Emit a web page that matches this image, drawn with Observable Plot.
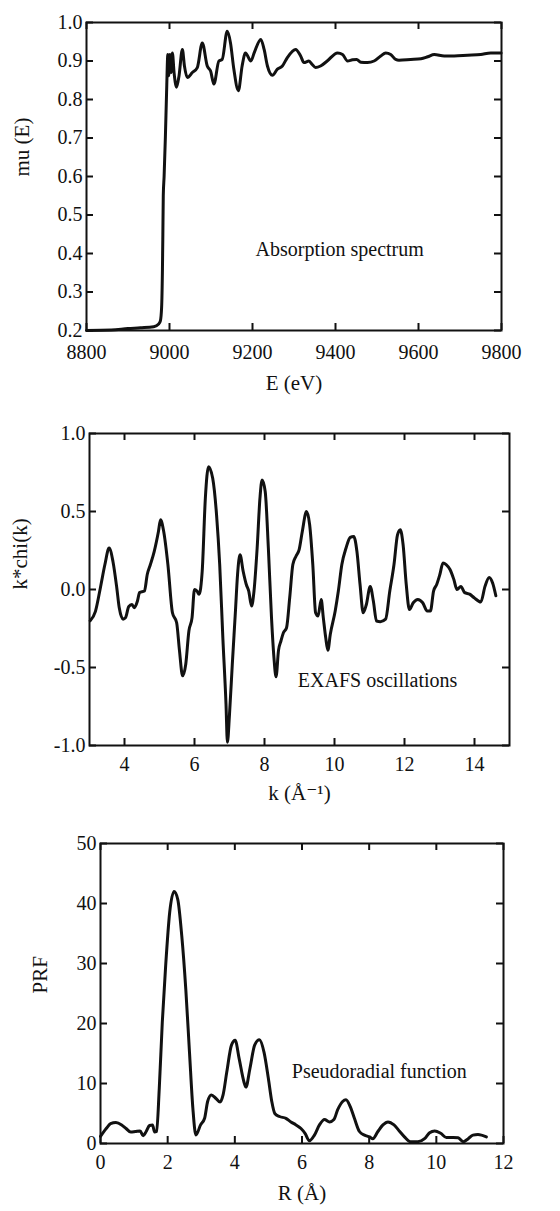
<!DOCTYPE html>
<html><head><meta charset="utf-8">
<script src="https://cdn.jsdelivr.net/npm/d3@7"></script>
<script src="https://cdn.jsdelivr.net/npm/@observablehq/plot@0.6"></script>
<style>
body{margin:0;background:#fff;}
#wrap{position:relative;width:560px;height:1211px;overflow:hidden;}
#wrap svg{position:absolute;left:0;}
#wrap svg text{font-family:"Liberation Serif","DejaVu Serif",serif !important;}
</style></head><body><div id="wrap"></div>
<script>
// ---- Panel 1: absorption spectrum ----
const absE = [8800,8860,8900,8930,8962,8974,8978,8981,8983,8984,8985,8987,8990,8993,8996,8998,9001,9004,9007,9011,9017,9023,9031,9036,9043,9055,9067,9079,9091,9099,9107,9119,9127,9139,9147,9155,9166,9175,9183,9196,9204,9220,9228,9236,9248,9260,9272,9284,9304,9316,9324,9336,9344,9352,9364,9380,9405,9417,9429,9441,9451,9461,9477,9493,9509,9521,9533,9545,9553,9581,9606,9622,9638,9662,9686,9718,9750,9774,9799];
const absMu = [0.200,0.201,0.205,0.207,0.210,0.217,0.225,0.26,0.36,0.45,0.55,0.60,0.70,0.82,0.917,0.862,0.917,0.870,0.921,0.870,0.832,0.862,0.930,0.887,0.857,0.870,0.883,0.947,0.887,0.874,0.840,0.900,0.904,0.977,0.947,0.879,0.823,0.887,0.921,0.900,0.921,0.956,0.930,0.887,0.863,0.879,0.887,0.909,0.930,0.913,0.896,0.900,0.891,0.883,0.887,0.900,0.921,0.917,0.900,0.903,0.904,0.897,0.896,0.900,0.913,0.921,0.917,0.904,0.902,0.904,0.906,0.911,0.917,0.913,0.913,0.915,0.917,0.921,0.921];
const absXTicks = [8800,9000,9200,9400,9600,9800];
const absYTicks = [0.2,0.3,0.4,0.5,0.6,0.7,0.8,0.9,1.0];

// ---- Panel 2: EXAFS oscillations ----
const exK = [3.02,3.17,3.31,3.44,3.56,3.67,3.78,3.85,3.96,4.03,4.12,4.21,4.28,4.37,4.43,4.57,4.65,4.74,4.85,4.97,5.03,5.12,5.24,5.37,5.49,5.57,5.66,5.75,5.84,5.93,6.0,6.07,6.13,6.22,6.31,6.40,6.52,6.63,6.72,6.81,6.90,6.94,7.0,7.08,7.17,7.23,7.30,7.39,7.48,7.55,7.63,7.70,7.79,7.87,7.93,8.02,8.11,8.20,8.27,8.33,8.40,8.47,8.54,8.63,8.72,8.81,8.90,8.99,9.08,9.20,9.29,9.38,9.46,9.53,9.62,9.68,9.75,9.81,9.88,10.02,10.11,10.21,10.33,10.45,10.55,10.64,10.73,10.82,10.91,11.02,11.11,11.20,11.31,11.46,11.58,11.70,11.80,11.88,11.96,12.05,12.14,12.25,12.38,12.52,12.65,12.74,12.83,12.92,13.01,13.10,13.19,13.30,13.41,13.50,13.61,13.72,13.86,13.99,14.18,14.30,14.42,14.52,14.61];
const exChi = [-0.20,-0.14,0.01,0.16,0.266,0.18,0.01,-0.117,-0.19,-0.18,-0.11,-0.096,-0.117,-0.074,-0.02,-0.01,0.096,0.16,0.245,0.372,0.447,0.372,0.16,-0.149,-0.213,-0.39,-0.553,-0.479,-0.266,-0.18,0.0,-0.01,-0.03,0.117,0.585,0.787,0.713,0.479,0.16,-0.31,-0.734,-0.979,-0.80,-0.479,-0.138,0.096,0.223,0.117,0.032,-0.01,-0.106,-0.01,0.266,0.585,0.702,0.628,0.266,-0.18,-0.436,-0.56,-0.39,-0.33,-0.277,-0.245,-0.053,0.16,0.213,0.255,0.372,0.5,0.415,0.16,-0.149,-0.17,-0.064,-0.18,-0.31,-0.39,-0.287,-0.138,-0.01,0.16,0.266,0.334,0.34,0.245,0.032,-0.149,-0.096,0.02,-0.074,-0.202,-0.206,-0.19,-0.01,0.16,0.35,0.383,0.287,0.032,-0.128,-0.085,-0.064,-0.085,-0.138,-0.138,-0.01,0.032,0.096,0.17,0.16,0.128,0.064,0.0,0.02,-0.02,-0.03,-0.053,-0.08,0.02,0.077,0.04,-0.04];
const exXTicks = [4,6,8,10,12,14];
const exYTicks = [-1.0,-0.5,0.0,0.5,1.0];

// ---- Panel 3: pseudoradial function ----
const prfR = [0.0,0.17,0.30,0.46,0.63,0.76,0.90,1.04,1.18,1.27,1.36,1.46,1.55,1.61,1.67,1.75,1.84,1.94,2.06,2.19,2.30,2.42,2.54,2.65,2.75,2.84,2.98,3.10,3.19,3.30,3.44,3.56,3.65,3.76,3.90,4.01,4.13,4.27,4.33,4.45,4.59,4.73,4.87,5.0,5.10,5.19,5.33,5.52,5.67,5.82,5.97,6.09,6.22,6.37,6.52,6.67,6.82,6.95,7.06,7.21,7.31,7.44,7.56,7.71,7.86,8.01,8.11,8.26,8.41,8.56,8.74,8.91,9.05,9.23,9.45,9.65,9.80,9.95,10.13,10.30,10.50,10.65,10.80,10.95,11.09,11.24,11.49];
const prfV = [1.2,2.5,3.3,3.5,3.1,2.5,1.9,2.0,2.1,1.3,2.0,3.0,3.1,1.9,2.0,9.2,20.2,29.6,38.5,42.0,40.7,34.6,25.7,15.2,5.9,1.4,3.1,4.2,7.0,8.1,7.5,6.9,8.1,11.9,16.4,17.2,14.1,10.3,9.4,12.5,16.4,17.3,15.2,10.8,7.0,5.0,4.5,4.2,3.6,3.1,2.5,1.7,0.45,1.4,3.1,4.0,3.6,4.0,5.6,7.0,7.3,6.1,4.2,2.0,1.4,1.1,0.8,2.0,3.1,3.6,3.1,2.0,1.1,0.3,0.3,0.8,1.8,2.1,1.7,1.0,1.0,0.95,0.3,0.8,1.4,1.5,1.1];
const prfXTicks = [0,2,4,6,8,10,12];
const prfYTicks = [0,10,20,30,40,50];

const FONT = "Liberation Serif";
const INK = "#111";

function panel(o) {
  const data = o.xs.map((x, i) => ({x, y: o.ys[i]}));
  const ph = o.height - o.mt - o.mb;
  const pw = 560 - o.ml - o.mr;
  const T = 7;
  const svg = Plot.plot({
    width: 560, height: o.height,
    marginTop: o.mt, marginBottom: o.mb, marginLeft: o.ml, marginRight: o.mr,
    style: {fontFamily: FONT, fontSize: "20px", color: INK, background: "white"},
    x: {domain: o.xDomain, label: null},
    y: {domain: o.yDomain, label: null},
    marks: [
      Plot.tickX(o.xTicks, {x: d => d, insetBottom: ph - T, stroke: INK, strokeWidth: 2}),
      Plot.tickX(o.xTicks, {x: d => d, insetTop: ph - T, stroke: INK, strokeWidth: 2}),
      Plot.tickY(o.yTicks, {y: d => d, insetRight: pw - T, stroke: INK, strokeWidth: 2}),
      Plot.tickY(o.yTicks, {y: d => d, insetLeft: pw - T, stroke: INK, strokeWidth: 2}),
      Plot.axisX({ticks: o.xTicks, tickSize: 0, tickPadding: o.xPad, tickFormat: d => String(d), fontFamily: FONT, fontSize: 20}),
      Plot.axisY({ticks: o.yTicks, tickSize: 0, tickPadding: 4, tickFormat: o.yFmt, fontFamily: FONT, fontSize: 20}),
      Plot.line(data, {x: "x", y: "y", stroke: INK, strokeWidth: 3, curve: "monotone-x", strokeLinejoin: "round"}),
      Plot.frame({stroke: INK, strokeWidth: 2}),
      Plot.text([o.note], {x: d => d.x, y: d => d.y, text: d => d.t, fontSize: 20, fontFamily: FONT, fill: INK}),
      Plot.text([o.xLabel], {frameAnchor: "bottom", dy: o.xLabelDy, fontSize: 21, fontFamily: FONT, fill: INK}),
      Plot.text([o.yLabel], {frameAnchor: "left", dx: o.yLabelDx, rotate: -90, fontSize: 21, fontFamily: FONT, fill: INK})
    ]
  });
  svg.style.top = o.top + "px";
  document.getElementById("wrap").appendChild(svg);
}

panel({
  xs: absE, ys: absMu, xDomain: [8800, 9800], yDomain: [0.2, 1.0],
  xTicks: absXTicks, yTicks: absYTicks, yFmt: d => d.toFixed(1),
  top: 0, height: 400, mt: 22, mb: 70, ml: 86, mr: 59, xPad: 14,
  note: {x: 9410, y: 0.41, t: "Absorption spectrum"},
  xLabel: "E (eV)", xLabelDy: 59, yLabel: "mu (E)", yLabelDx: -64
});
panel({
  xs: exK, ys: exChi, xDomain: [3, 15], yDomain: [-1, 1],
  xTicks: exXTicks, yTicks: exYTicks, yFmt: d => d.toFixed(1),
  top: 400, height: 410, mt: 33, mb: 65, ml: 89, mr: 51, xPad: 11,
  note: {x: 11.23, y: -0.585, t: "EXAFS oscillations"},
  xLabel: "k (Å⁻¹)", xLabelDy: 54, yLabel: "k*chi(k)", yLabelDx: -69
});
panel({
  xs: prfR, ys: prfV, xDomain: [0, 12], yDomain: [0, 50],
  xTicks: prfXTicks, yTicks: prfYTicks, yFmt: d => String(d),
  top: 810, height: 401, mt: 33, mb: 68, ml: 100, mr: 57, xPad: 11,
  note: {x: 8.3, y: 12.0, t: "Pseudoradial function"},
  xLabel: "R (Å)", xLabelDy: 56, yLabel: "PRF", yLabelDx: -60
});
</script></body></html>
